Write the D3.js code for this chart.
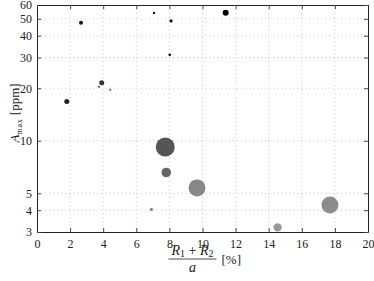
<!DOCTYPE html>
<html>
<head>
<meta charset="utf-8">
<script src="https://cdn.jsdelivr.net/npm/d3@7"></script>
<style>
  body { margin: 0; background: #fff; }
  svg text { font-family: "Liberation Serif", "DejaVu Serif", serif; }
</style>
</head>
<body>
<div id="chart"></div>
<script>
// values
var ratio  = [1.8, 2.66, 3.91, 3.75, 4.43, 7.07, 8.1, 8.02, 11.4, 7.75, 7.81, 9.67, 6.91, 14.54, 17.7];
var amax   = [16.8, 47.4, 21.5, 20.4, 19.6, 54.0, 48.6, 31.1, 54.2, 9.2, 6.58, 5.37, 4.04, 3.19, 4.28];
var radius = [2.5, 2, 2.5, 1, 1, 1.2, 1.6, 1.4, 3, 9.5, 4.8, 8.5, 1.6, 4.2, 8.5];
var shade  = ["#222", "#111", "#333", "#444", "#555", "#111", "#111", "#222", "#000",
              "#555", "#666", "#888", "#888", "#999", "#8c8c8c"];
var xTicks = [0, 2, 4, 6, 8, 10, 12, 14, 16, 18, 20];
var yTicks = [3, 4, 5, 10, 20, 30, 40, 50, 60];

var data = ratio.map(function(d, i) {
  return { x: d, y: amax[i], r: radius[i], c: shade[i] };
});

var margin = {top: 5, right: 6, bottom: 49, left: 37},
    width = 374 - margin.left - margin.right,
    height = 281 - margin.top - margin.bottom;

var svg = d3.select("#chart")
    .append("svg")
    .attr("width", 374)
    .attr("height", 281)
    .append("g")
    .attr("transform", "translate(" + margin.left + "," + margin.top + ")");

var x = d3.scaleLinear().domain([0, 20]).range([0, width]);
var y = d3.scaleLog().domain([3, 60]).range([height, 0]);

// dotted grid
svg.append("g").selectAll("line")
    .data(xTicks.slice(1, -1))
    .enter().append("line")
    .attr("x1", function(d) { return x(d); })
    .attr("x2", function(d) { return x(d); })
    .attr("y1", 0).attr("y2", height)
    .attr("stroke", "#bbb").attr("stroke-width", 0.8)
    .attr("stroke-dasharray", "1,3");
svg.append("g").selectAll("line")
    .data(yTicks.slice(1, -1))
    .enter().append("line")
    .attr("y1", function(d) { return y(d); })
    .attr("y2", function(d) { return y(d); })
    .attr("x1", 0).attr("x2", width)
    .attr("stroke", "#bbb").attr("stroke-width", 0.8)
    .attr("stroke-dasharray", "1,3");

// points, biggest first
svg.append("g")
    .selectAll("circle")
    .data(data.slice().sort(function(a, b) { return b.r - a.r; }))
    .enter()
    .append("circle")
        .attr("cx", function(d) { return x(d.x); })
        .attr("cy", function(d) { return y(d.y); })
        .attr("r", function(d) { return d.r; })
        .attr("fill", function(d) { return d.c; });

// axes with inward ticks
svg.append("g")
    .attr("transform", "translate(0," + height + ")")
    .call(d3.axisBottom(x).tickValues(xTicks).tickSizeInner(-4).tickSizeOuter(0).tickPadding(7));
svg.append("g")
    .call(d3.axisLeft(y).tickValues(yTicks).tickFormat(d3.format("d")).tickSizeInner(-4).tickSizeOuter(0).tickPadding(5));
svg.append("g")
    .call(d3.axisTop(x).tickValues(xTicks).tickFormat("").tickSizeInner(-4).tickSizeOuter(0));
svg.append("g")
    .attr("transform", "translate(" + width + ",0)")
    .call(d3.axisRight(y).tickValues(yTicks).tickFormat("").tickSizeInner(-4).tickSizeOuter(0));

svg.selectAll(".domain").attr("stroke", "#222");
svg.selectAll(".tick line").attr("stroke", "#444");
svg.selectAll(".tick text").attr("font-size", 12).attr("fill", "#222")
    .attr("font-family", "Liberation Serif, serif");

// x label: fraction
var xl = svg.append("g").attr("transform", "translate(155.5," + (height + 23) + ")");
var num = xl.append("text").attr("text-anchor", "middle").attr("y", 0).attr("font-size", 14)
    .attr("font-style", "italic").attr("fill", "#222");
num.append("tspan").text("R");
num.append("tspan").attr("font-size", 10).attr("dy", 2).attr("font-style", "normal").text("1");
num.append("tspan").attr("dy", -2).attr("font-style", "normal").text(" + ");
num.append("tspan").text("R");
num.append("tspan").attr("font-size", 10).attr("dy", 2).attr("font-style", "normal").text("2");
xl.append("line").attr("x1", -24).attr("x2", 24).attr("y1", 4).attr("y2", 4)
    .attr("stroke", "#222").attr("stroke-width", 0.8);
xl.append("text").attr("text-anchor", "middle").attr("y", 17).attr("font-size", 14)
    .attr("font-style", "italic").attr("fill", "#222").text("a");
xl.append("text").attr("x", 29).attr("y", 9).attr("font-size", 13).attr("fill", "#222").text("[%]");

// y label
var yl = svg.append("text")
    .attr("transform", "translate(-18,108) rotate(-90)")
    .attr("text-anchor", "middle").attr("font-size", 13).attr("fill", "#222");
yl.append("tspan").attr("font-style", "italic").text("A");
yl.append("tspan").attr("font-size", 8).attr("dy", 3).attr("letter-spacing", 0.8).text("max");
yl.append("tspan").attr("dy", -3).text(" [ppm]");
</script>
</body>
</html>
